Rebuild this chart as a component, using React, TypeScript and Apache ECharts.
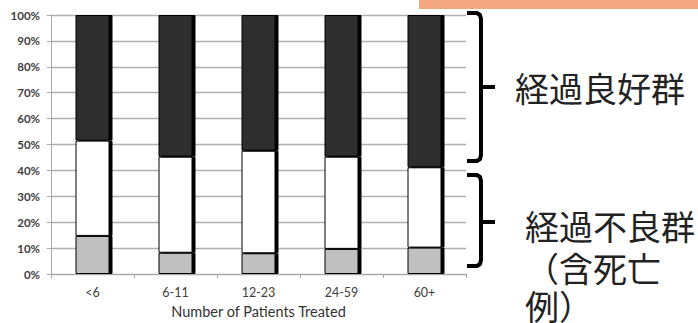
import React, { useEffect, useRef } from "react";
import * as echarts from "echarts";

const categories = ["<6", "6-11", "12-23", "24-59", "60+"];
const poorValues = [14.7, 8.2, 8.0, 9.7, 10.2];
const middleValues = [36.8, 37.1, 39.6, 35.6, 31.0];
const goodValues = [48.5, 54.7, 52.4, 54.7, 58.8];
const xAxisTitle = "Number of Patients Treated";
const goodLabel = "経過良好群";
const poorLabelLines = ["経過不良群", "（含死亡", "例）"];

export default function App() {
  const ref = useRef<HTMLDivElement>(null);
  useEffect(() => {
    if (!ref.current) return;
    const chart = echarts.init(ref.current, null, { renderer: "svg" });
    const barBase = {
      type: "bar" as const,
      stack: "total",
      barWidth: 34,
      silent: true,
    };
    const shadow = {
      borderColor: "#000",
      borderWidth: 1,
      shadowColor: "#000",
      shadowOffsetX: 3,
      shadowOffsetY: 0,
      shadowBlur: 0,
    };
    const cjkFont = '"Noto Sans CJK JP", sans-serif';
    const brace = (top: number, bottom: number, mid: number) => [
      {
        type: "polyline",
        shape: {
          points: [
            [467, top], [477, top], [480, top + 2], [481, top + 6],
            [481, bottom - 6], [480, bottom - 2], [477, bottom], [467, bottom],
          ],
        },
        style: { stroke: "#000", lineWidth: 4, fill: null, lineJoin: "round" },
      },
      {
        type: "line",
        shape: { x1: 481, y1: mid, x2: 495, y2: mid },
        style: { stroke: "#000", lineWidth: 4 },
      },
    ];
    chart.setOption({
      animation: false,
      backgroundColor: "#fff",
      grid: { left: 51, right: 232, top: 15, bottom: 49, containLabel: false, outerBoundsMode: "none" },
      xAxis: {
        type: "category",
        data: categories,
        name: xAxisTitle,
        nameLocation: "middle",
        nameGap: 28,
        nameTextStyle: { fontFamily: "Lato", fontSize: 14.5, color: "#333" },
        axisLine: { lineStyle: { color: "#a8a8a8", width: 1 } },
        axisTick: { show: true, length: 4, lineStyle: { color: "#a8a8a8" } },
        axisLabel: { fontFamily: "Lato", fontSize: 12.5, color: "#404040", margin: 12 },
      },
      yAxis: {
        type: "value",
        min: 0,
        max: 100,
        interval: 10,
        axisLine: { show: true, lineStyle: { color: "#a8a8a8", width: 1 } },
        axisTick: { show: true, length: 4, lineStyle: { color: "#a8a8a8" } },
        axisLabel: {
          formatter: "{value}%",
          fontFamily: "Lato",
          fontSize: 11.5,
          fontWeight: "bold",
          color: "#404040",
          margin: 11,
        },
        splitLine: { lineStyle: { color: "#b0b0b0", width: 1.4 } },
      },
      series: [
        { ...barBase, name: "poor", data: poorValues, itemStyle: { color: "#c0c0c0", ...shadow } },
        { ...barBase, name: "middle", data: middleValues, itemStyle: { color: "#ffffff", ...shadow } },
        { ...barBase, name: "good", data: goodValues, itemStyle: { color: "#2d2d2d", ...shadow } },
      ],
      graphic: [
        { type: "rect", shape: { x: 419, y: 0, width: 279, height: 9 }, style: { fill: "#f3a882" } },
        ...brace(13, 161, 87),
        ...brace(175, 266, 222),
        {
          type: "text",
          x: 515,
          y: 70,
          style: { text: goodLabel, fontFamily: cjkFont, fontSize: 34, fill: "#222", verticalAlign: "top" },
        },
        ...poorLabelLines.map((t, i) => ({
          type: "text",
          x: 525,
          y: [208, 250, 288][i],
          style: { text: t, fontFamily: cjkFont, fontSize: 34, fill: "#222", verticalAlign: "top" },
        })),
      ],
    });
    return () => chart.dispose();
  }, []);
  return <div ref={ref} style={{ width: 698, height: 323, position: "absolute", left: 0, top: 0 }} />;
}
